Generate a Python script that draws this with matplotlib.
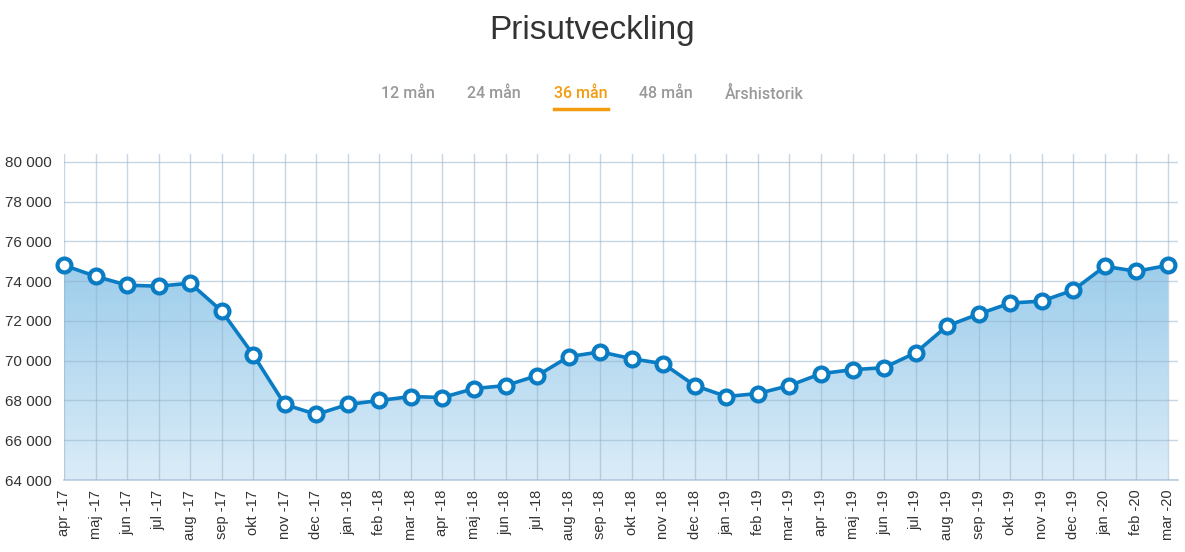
import numpy as np
import matplotlib.pyplot as plt
from matplotlib.ticker import FuncFormatter
from matplotlib.patches import Polygon

plt.switch_backend("agg")

months = [
    "apr -17", "maj -17", "jun -17", "jul -17", "aug -17", "sep -17",
    "okt -17", "nov -17", "dec -17", "jan -18", "feb -18", "mar -18",
    "apr -18", "maj -18", "jun -18", "jul -18", "aug -18", "sep -18",
    "okt -18", "nov -18", "dec -18", "jan -19", "feb -19", "mar -19",
    "apr -19", "maj -19", "jun -19", "jul -19", "aug -19", "sep -19",
    "okt -19", "nov -19", "dec -19", "jan -20", "feb -20", "mar -20",
]
prices = [
    74800, 74250, 73800, 73750, 73900, 72500,
    70300, 67800, 67300, 67800, 68000, 68200,
    68150, 68600, 68750, 69250, 70200, 70450,
    70100, 69850, 68750, 68200, 68350, 68750,
    69350, 69550, 69650, 70400, 71750, 72350,
    72900, 73000, 73550, 74750, 74500, 74800,
]
y_ticks = [64000, 66000, 68000, 70000, 72000, 74000, 76000, 78000, 80000]
tabs = ["12 mån", "24 mån", "36 mån", "48 mån", "Årshistorik"]
active_tab = "36 mån"

W, H = 1185, 552
fig = plt.figure(figsize=(W / 100, H / 100), dpi=100)
fig.patch.set_facecolor("white")
plt.rcParams["font.family"] = ["Liberation Sans", "DejaVu Sans"]

ax = fig.add_axes([64 / W, (H - 480) / H, (1178 - 64) / W, (480 - 154) / H])
x = np.arange(len(prices))
ymin, ymax = 64000, 80400
ax.set_xlim(0, len(prices) - 1 + 0.32)
ax.set_ylim(ymin, ymax)

# gradient fill under the line
verts = [(0, ymin)] + list(zip(x, prices)) + [(x[-1], ymin)]
poly = Polygon(verts, closed=True, facecolor="none", edgecolor="none")
ax.add_patch(poly)
grad = np.linspace(0, 1, 256).reshape(-1, 1)
top_c = np.array([0x9d, 0xcd, 0xeb]) / 255
bot_c = np.array([0xdb, 0xec, 0xf8]) / 255
rgb = top_c[None, :] * (1 - grad) + bot_c[None, :] * grad
img = ax.imshow(
    rgb.reshape(256, 1, 3),
    extent=[0, x[-1], ymin, max(prices)],
    aspect="auto",
    origin="upper",
    zorder=1,
)
img.set_clip_path(poly)

ax.plot(
    x, prices, color="#0a7cc4", lw=2.6, marker="o", ms=10,
    mfc="white", mec="#0a7cc4", mew=3, zorder=4, clip_on=False,
)

ax.set_yticks(y_ticks)
ax.yaxis.set_major_formatter(FuncFormatter(lambda v, p: "{:,.0f}".format(v).replace(",", " ")))
ax.set_xticks(x)
ax.set_xticklabels(months, rotation=90, fontsize=10.5, color="#333333")
ax.tick_params(axis="y", labelsize=11, labelcolor="#333333", length=0, pad=9)
ax.tick_params(axis="x", length=0, pad=7)
ax.grid(True, color="#93afc8", alpha=0.5, lw=1, zorder=2)
ax.set_axisbelow(False)
for s in ["top", "right", "left"]:
    ax.spines[s].set_visible(False)
ax.spines["bottom"].set_color("#b8cde0")
ax.spines["bottom"].set_linewidth(1.2)

fig.text(592 / W, 1 - 30 / H, "Prisutveckling", ha="center", va="center",
         fontsize=24, color="#333333")

tab_x = [408, 494, 581, 666, 764]
for label, tx in zip(tabs, tab_x):
    col = "#f39c12" if label == active_tab else "#999999"
    fig.text(tx / W, 1 - 94 / H, label, ha="center", va="center",
             fontsize=11.5, color=col, fontweight="medium", family="Roboto")
fig.add_artist(plt.Line2D([554 / W, 608 / W], [1 - 109 / H, 1 - 109 / H],
                          color="#f39c12", lw=2.5, transform=fig.transFigure))

fig.savefig("out.png", dpi=100, facecolor="white")
